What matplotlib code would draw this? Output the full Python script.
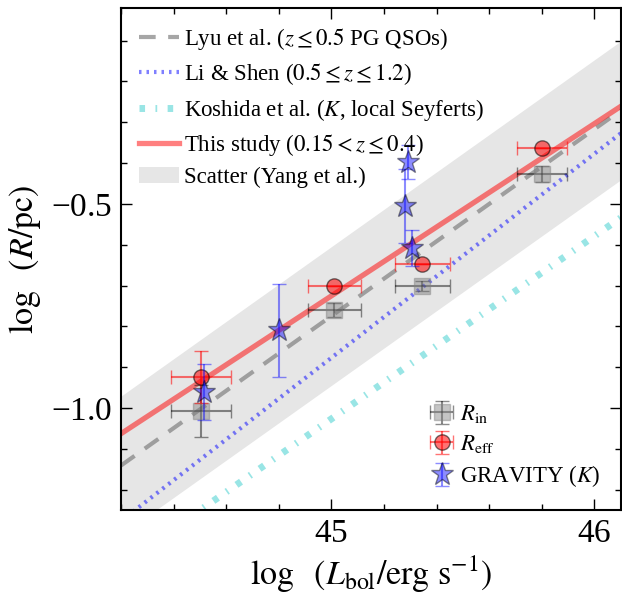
import numpy as np
import matplotlib
matplotlib.use("Agg")
import matplotlib.pyplot as plt

plt.rcParams['font.family'] = ['Liberation Serif', 'DejaVu Serif']
plt.rcParams['mathtext.fontset'] = 'stix'
plt.rcParams['axes.formatter.use_mathtext'] = True

# measured points: log L_bol, log R
lbol = [44.506, 45.011, 45.346, 45.802]
lbol_err = [0.114, 0.10, 0.103, 0.095]
r_eff = [-0.924, -0.700, -0.646, -0.363]
r_eff_err = [0.063, 0.0, 0.0, 0.0]
r_in = [-1.007, -0.759, -0.702, -0.427]
r_in_err = [0.063, 0.017, 0.012, 0.02]

# GRAVITY (K band)
grav_l = [44.517, 44.80, 45.29, 45.278, 45.308]
grav_r = [-0.961, -0.81, -0.398, -0.505, -0.607]
grav_err = [0.068, 0.113, 0.042, 0.09, 0.044]

# relations, given by their values at the two ends of the x range
line_x = [44.2, 46.1]
lyu_y = [-1.141, -0.271]
li_y = [-1.277, -0.327]
koshida_y = [-1.385, -0.534]
this_y = [-1.063, -0.261]
scatter = 0.17

fig = plt.figure(figsize=(6.22, 5.94), dpi=100)
ax = fig.add_axes([0.1945, 0.1414, 0.8035, 0.8451])

xx = np.array(line_x)
ax.fill_between(xx, np.array(lyu_y) - scatter, np.array(lyu_y) + scatter,
                color='#e6e6e6', lw=0, label='Scatter (Yang et al.)', zorder=0)
ax.plot(xx, lyu_y, color='gray', ls=(0, (4, 3)), lw=3, alpha=0.7,
        label=r'Lyu et al. ($z \leq 0.5$ PG QSOs)')
ax.plot(xx, li_y, color='blue', ls=(0, (0.6, 1.2)), lw=3, alpha=0.5,
        label=r'Li & Shen ($0.5 \leq z \leq 1.2$)')
ax.plot(xx, koshida_y, color='c', ls=(0, (0.8, 1.5, 0.25, 1.5)), lw=5, alpha=0.4,
        label=r'Koshida et al. ($K$, local Seyferts)')
ax.plot(xx, this_y, color='red', lw=3.8, alpha=0.5,
        label=r'This study ($0.15 < z \leq 0.4$)')

h1 = ax.errorbar(lbol, r_in, xerr=lbol_err, yerr=r_in_err, fmt='s', ms=11.5,
                 color='k', mfc='gray', mec='gray', ecolor='k', elinewidth=1.5,
                 capsize=5, alpha=0.45, zorder=3)
h2 = ax.errorbar(lbol, r_eff, xerr=lbol_err, yerr=r_eff_err, fmt='o', ms=11,
                 mfc='red', mec='k', ecolor='red', elinewidth=1.5,
                 capsize=5, alpha=0.55, zorder=4)
h3 = ax.errorbar(grav_l, grav_r, yerr=grav_err, fmt='*', ms=17,
                 mfc='blue', mec='k', ecolor='blue', elinewidth=1.5,
                 capsize=5, alpha=0.45, zorder=5)

ax.set_xlim(44.2, 46.1)
ax.set_ylim(-1.25, -0.02)
ax.set_xticks([45, 46])
ax.set_xticks(np.arange(44.2, 46.11, 0.2), minor=True)
ax.set_yticks([-1.0, -0.5])
ax.set_yticks(np.arange(-1.2, 0.0, 0.1), minor=True)
ax.tick_params(which='both', direction='in', top=True, right=True, labelsize=24, width=1)
ax.tick_params(which='major', length=8, pad=6)
ax.tick_params(which='minor', length=4)
for s in ax.spines.values():
    s.set_linewidth(1.5)

ax.set_xlabel(r'$\log\ \ (L_{\rm bol}/{\rm erg\ s^{-1}})$', fontsize=24.5, labelpad=3)
ax.set_ylabel(r'$\log\ \ (R/{\rm pc})$', fontsize=24.5, labelpad=6)

hs, ls = ax.get_legend_handles_labels()
order = [1, 2, 3, 4, 0]
leg1 = ax.legend([hs[i] for i in order], [ls[i] for i in order], loc='upper left',
                 frameon=False, fontsize=16.5, handlelength=1.75, handletextpad=0.2,
                 labelspacing=0.4, borderaxespad=0.4, borderpad=0.4)
ax.add_artist(leg1)
ax.legend([h1, h2, h3], [r'$R_{\rm in}$', r'$R_{\rm eff}$', r'GRAVITY ($K$)'],
          loc='lower right', frameon=False, fontsize=16.5, handlelength=1.0,
          handletextpad=0.3, labelspacing=0.35, borderaxespad=0.5)

fig.savefig('out.png', dpi=100)
